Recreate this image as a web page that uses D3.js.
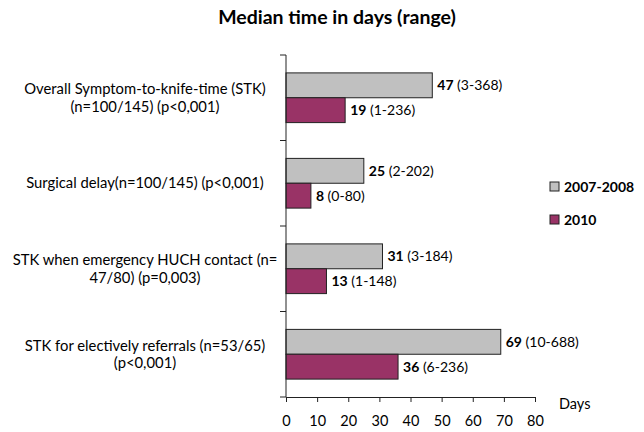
<!DOCTYPE html>
<html>
<head>
<meta charset="utf-8">
<script src="https://cdn.jsdelivr.net/npm/d3@7"></script>
<style>
  body { margin: 0; background: #fff; }
  svg { font-family: Lato, "Open Sans", sans-serif; }
</style>
</head>
<body>
<svg id="chart" width="644" height="432"></svg>
<script>
const categories = [
  ["Overall Symptom-to-knife-time (STK)", "(n=100/145) (p<0,001)"],
  ["Surgical delay(n=100/145) (p<0,001)"],
  ["STK when emergency HUCH contact (n=", "47/80) (p=0,003)"],
  ["STK for electively referrals (n=53/65)", "(p<0,001)"]
];
const seriesNames = ["2007-2008", "2010"];
const medians0708 = [47, 25, 31, 69];
const ranges0708 = ["(3-368)", "(2-202)", "(3-184)", "(10-688)"];
const medians2010 = [19, 8, 13, 36];
const ranges2010 = ["(1-236)", "(0-80)", "(1-148)", "(6-236)"];
const xTicks = [0, 10, 20, 30, 40, 50, 60, 70, 80];
const colors = ["#C0C0C0", "#993366"];

const svg = d3.select("#chart");
const plotL = 286, plotR = 535, plotT = 55, plotB = 397;

const x = d3.scaleLinear().domain([0, 80]).range([plotL, plotR]);
const y = d3.scaleBand().domain(d3.range(categories.length)).range([plotT, plotB]);
const inner = d3.scaleBand().domain([0, 1]).range([0, y.bandwidth()]).paddingOuter(0.72).paddingInner(0);

/* title */
svg.append("text")
  .attr("x", 337).attr("y", 24)
  .attr("text-anchor", "middle")
  .attr("font-weight", "bold")
  .attr("font-size", 19.5)
  .text("Median time in days (range)");

/* bars */
const series = [
  { name: seriesNames[0], med: medians0708, rng: ranges0708 },
  { name: seriesNames[1], med: medians2010, rng: ranges2010 }
];
series.forEach((s, si) => {
  const g = svg.append("g");
  s.med.forEach((v, i) => {
    const by = y(i) + inner(si);
    g.append("rect")
      .attr("x", x(0)).attr("y", by)
      .attr("width", x(v) - x(0)).attr("height", inner.bandwidth())
      .attr("fill", colors[si])
      .attr("stroke", "#222").attr("stroke-width", 1);
    const t = g.append("text")
      .attr("x", x(v) + 5).attr("y", by + inner.bandwidth() / 2 + 5)
      .attr("font-size", 14).attr("fill", "#000");
    t.append("tspan").attr("font-weight", "bold").text(v);
    t.append("tspan").text(" " + s.rng[i]);
  });
});

/* y axis (category separators) */
const yAxis = svg.append("g").attr("stroke", "#222");
yAxis.append("line").attr("x1", plotL).attr("x2", plotL).attr("y1", plotT).attr("y2", plotB);
d3.range(categories.length + 1).forEach(i => {
  const ty = i < categories.length ? y(i) : plotB;
  yAxis.append("line").attr("x1", plotL - 6).attr("x2", plotL).attr("y1", ty).attr("y2", ty);
});

/* category labels */
categories.forEach((lines, i) => {
  const cy = y(i) + y.bandwidth() / 2;
  const t = svg.append("text")
    .attr("text-anchor", "middle")
    .attr("font-size", 14.8);
  lines.forEach((ln, k) => {
    t.append("tspan")
      .attr("x", 145)
      .attr("y", cy + 5 + (k - (lines.length - 1) / 2) * 17.5)
      .text(ln);
  });
});

/* x axis */
const xAxisG = svg.append("g")
  .attr("transform", `translate(0,${plotB})`)
  .call(d3.axisBottom(x).tickValues(xTicks).tickSizeInner(5).tickSizeOuter(0).tickPadding(14));
xAxisG.select(".domain").attr("stroke", "#222");
xAxisG.selectAll(".tick line").attr("stroke", "#222");
xAxisG.selectAll(".tick text").attr("font-size", 14.5).attr("font-family", "Lato, sans-serif").attr("fill", "#000");

svg.append("text")
  .attr("x", 559).attr("y", 409)
  .attr("font-size", 14.5)
  .text("Days");

/* legend */
const legend = svg.append("g");
seriesNames.forEach((n, i) => {
  const ly = 187 + i * 33;
  legend.append("rect")
    .attr("x", 550).attr("y", ly - 5)
    .attr("width", 9).attr("height", 9)
    .attr("fill", colors[i]).attr("stroke", "#222");
  legend.append("text")
    .attr("x", 564).attr("y", ly + 5)
    .attr("font-size", 14).attr("font-weight", "bold")
    .text(n);
});
</script>
</body>
</html>
